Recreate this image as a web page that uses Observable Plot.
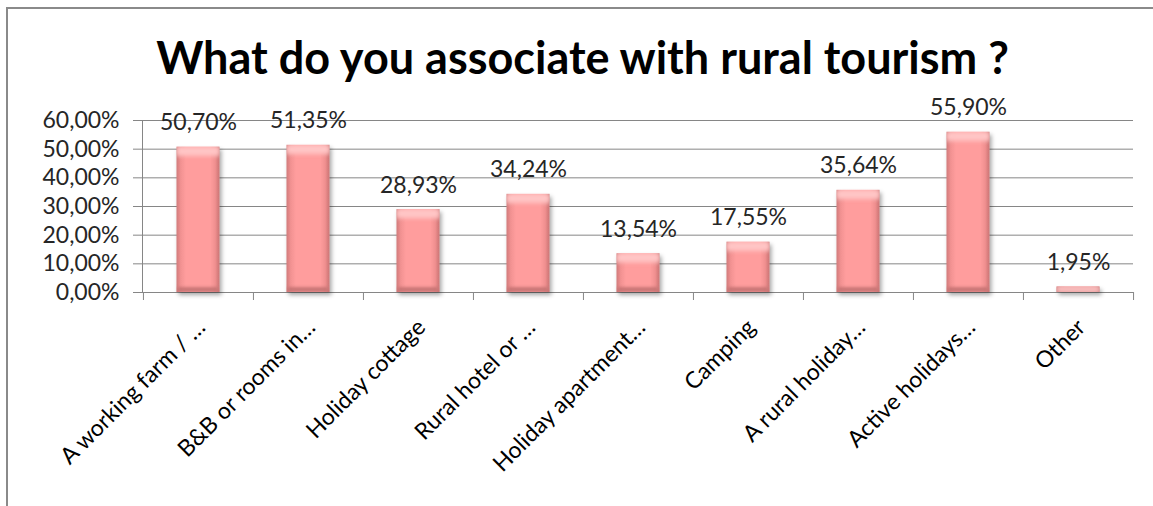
<!DOCTYPE html>
<html>
<head>
<meta charset="utf-8">
<script src="https://cdn.jsdelivr.net/npm/d3@7"></script>
<script src="https://cdn.jsdelivr.net/npm/@observablehq/plot@0.6"></script>
<style>
  html, body { margin: 0; padding: 0; background: #fff; }
  body { width: 1153px; height: 506px; position: relative; overflow: hidden; font-family: Lato, "Open Sans", sans-serif; }
  #frame { position: absolute; left: 6px; top: 7px; width: 1200px; height: 600px; border-left: 2px solid #8a8a8a; border-top: 2px solid #8a8a8a; }
  #title { position: absolute; left: 0; width: 1165px; top: 35px; text-align: center; font-size: 45px; line-height: 45px; font-weight: 700; color: #000; }
  #chart { position: absolute; left: 0; top: 95px; }
</style>
</head>
<body>
<div id="frame"></div>
<div id="title">What do you associate with rural tourism ?</div>
<div id="chart"></div>
<script>
const categories = [
  "A working farm / …",
  "B&B or rooms in…",
  "Holiday cottage",
  "Rural hotel or …",
  "Holiday apartment…",
  "Camping",
  "A rural holiday…",
  "Active holidays…",
  "Other"
];
const values = [50.70, 51.35, 28.93, 34.24, 13.54, 17.55, 35.64, 55.90, 1.95];
const yTicks = [0, 10, 20, 30, 40, 50, 60];

const data = categories.map((c, i) => ({category: c, value: values[i]}));
const fmt = v => v.toFixed(2).replace(".", ",") + "%";

const W = 1153, H = 411, ML = 142, MR = 20, MT = 25, MB = 214;
const bw = (W - ML - MR) / categories.length;
const gray = "#868686";
const textColor = "#262626";

const svg = Plot.plot({
  width: W, height: H,
  marginLeft: ML, marginRight: MR, marginTop: MT, marginBottom: MB,
  style: {fontFamily: "Lato, 'Open Sans', sans-serif", fontSize: "23px", color: textColor, background: "transparent", overflow: "visible"},
  x: {domain: categories, padding: 0},
  y: {domain: [0, 60]},
  marks: [
    Plot.ruleY(yTicks, {stroke: gray, strokeOpacity: 1}),
    Plot.frame({anchor: "left", stroke: gray}),
    Plot.axisY({ticks: yTicks, tickSize: 9, tickPadding: 14, tickFormat: fmt, stroke: gray, fill: textColor, fontSize: 23, label: null}),
    Plot.axisX({ticks: categories, tickSize: 8, tickFormat: () => "", dx: -bw / 2, stroke: gray, label: null}),
    Plot.axisX({ticks: categories.slice(-1), tickSize: 8, tickFormat: () => "", dx: bw / 2, stroke: gray, label: null}),
    Plot.barY(data, {x: "category", y: "value", fill: "url(#barGrad)", insetLeft: 33.5, insetRight: 33.5}),
    Plot.text(data, {x: "category", y: "value", text: d => fmt(d.value), lineAnchor: "bottom", dy: -17, fill: textColor, fontSize: 23}),
    Plot.text(categories, {x: d => d, frameAnchor: "bottom", rotate: -45, textAnchor: "end", lineAnchor: "middle", dx: 3, dy: 31, fill: "#000", fontSize: 23})
  ]
});

const s = d3.select(svg);
const defs = s.insert("defs", ":first-child");
const g = defs.append("linearGradient").attr("id", "barGrad").attr("x1", 0).attr("x2", 1).attr("y1", 0).attr("y2", 0);
[[0, "#D07777"], [0.1, "#F29292"], [0.22, "#FF9D9D"], [0.78, "#FF9D9D"], [0.9, "#F09090"], [1, "#C87070"]]
  .forEach(([o, c]) => g.append("stop").attr("offset", o).attr("stop-color", c));

const f = defs.append("filter").attr("id", "bevel").attr("filterUnits", "userSpaceOnUse")
  .attr("x", 0).attr("y", 0).attr("width", W).attr("height", H);
f.html(`
  <feGaussianBlur in="SourceAlpha" stdDeviation="2" result="blur"/>
  <feOffset in="blur" dx="2" dy="3" result="offBlur"/>
  <feFlood flood-color="#000" flood-opacity="0.35"/>
  <feComposite in2="offBlur" operator="in" result="shadow"/>
  <feOffset in="SourceAlpha" dy="9" result="down"/>
  <feComposite in="SourceAlpha" in2="down" operator="out" result="topStrip"/>
  <feFlood flood-color="#FFC6C6"/>
  <feComposite in2="topStrip" operator="in" result="topC"/>
  <feGaussianBlur in="topC" stdDeviation="2" result="topB"/>
  <feComposite in="topB" in2="SourceAlpha" operator="in" result="topF"/>
  <feOffset in="SourceAlpha" dy="-5" result="up"/>
  <feComposite in="SourceAlpha" in2="up" operator="out" result="botStrip"/>
  <feFlood flood-color="#C87474"/>
  <feComposite in2="botStrip" operator="in" result="botC"/>
  <feGaussianBlur in="botC" stdDeviation="1.5" result="botB"/>
  <feComposite in="botB" in2="SourceAlpha" operator="in" result="botF"/>
  <feMerge>
    <feMergeNode in="shadow"/>
    <feMergeNode in="SourceGraphic"/>
    <feMergeNode in="botF"/>
    <feMergeNode in="topF"/>
  </feMerge>`);
s.selectAll('g[aria-label="bar"]').attr("filter", "url(#bevel)");

document.getElementById("chart").appendChild(svg);
</script>
</body>
</html>
